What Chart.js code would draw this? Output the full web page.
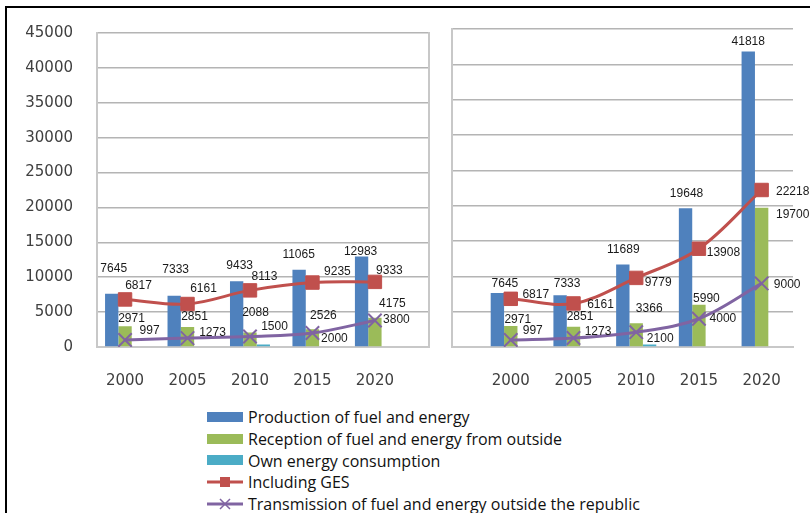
<!DOCTYPE html>
<html>
<head>
<meta charset="utf-8">
<script src="https://cdn.jsdelivr.net/npm/chart.js@4.4.1/dist/chart.umd.min.js"></script>
<style>
  html, body { margin: 0; padding: 0; background: #fff; }
  body { width: 810px; height: 513px; position: relative; overflow: hidden; }
  #frame { position: absolute; left: 5px; top: 6px; width: 805px; height: 507px;
           border-top: 2px solid #000; border-left: 2px solid #000; box-sizing: border-box; }
  .panel { position: absolute; top: 0; height: 395px; }
  #leftPanel { left: 0; width: 440px; }
  #rightPanel { left: 440px; width: 370px; }
  #legend { position: absolute; left: 207px; top: 406px; font-family: "Open Sans", sans-serif;
            font-size: 16px; color: #111; }
  .row { height: 21.8px; display: flex; align-items: center; white-space: nowrap; }
  .key { width: 36px; height: 12px; margin-right: 5px; flex: none; }
</style>
</head>
<body>
<div id="frame"></div>
<div class="panel" id="leftPanel"><canvas id="leftChart"></canvas></div>
<div class="panel" id="rightPanel"><canvas id="rightChart"></canvas></div>
<div id="legend"></div>

<script>
// Years shown on both panels
const years = ['2000', '2005', '2010', '2015', '2020'];

const seriesNames = [
  'Production of fuel and energy',
  'Reception of fuel and energy from outside',
  'Own energy consumption',
  'Including GES',
  'Transmission of fuel and energy outside the republic'
];

// Left panel
const leftProduction   = [7645, 7333, 9433, 11065, 12983];
const leftReception    = [2971, 2851, 2088, 2526, 4175];
const leftOwnUse       = [120, 110, 350, 120, 100];
const leftGES          = [6817, 6161, 8113, 9235, 9333];
const leftTransmission = [997, 1273, 1500, 2000, 3800];

// Right panel
const rightProduction   = [7645, 7333, 11689, 19648, 41818];
const rightReception    = [2971, 2851, 3366, 5990, 19700];
const rightOwnUse       = [120, 110, 350, 120, 100];
const rightGES          = [6817, 6161, 9779, 13908, 22218];
const rightTransmission = [997, 1273, 2100, 4000, 9000];

// Y axis
const yMin = 0, yMax = 45000, yStep = 5000;

const colors = {
  production: '#4F81BD',
  reception: '#9BBB59',
  own: '#4BACC6',
  ges: '#C0504D',
  trans: '#8064A2'
};

const toPoints = arr => arr.map((v, i) => ({ x: i, y: v }));

function makeDatasets(prod, recv, own, ges, trans) {
  return [
    { key: 'production', type: 'bar', label: seriesNames[0], data: toPoints(prod),
      backgroundColor: colors.production, order: 1, yAxisID: 'y' },
    { key: 'reception', type: 'bar', label: seriesNames[1], data: toPoints(recv),
      backgroundColor: colors.reception, order: 1, yAxisID: 'y' },
    { key: 'own', type: 'bar', label: seriesNames[2], data: toPoints(own),
      backgroundColor: colors.own, order: 1, yAxisID: 'y' },
    { key: 'ges', type: 'line', label: seriesNames[3], data: toPoints(ges),
      borderColor: colors.ges, backgroundColor: colors.ges, borderWidth: 3,
      pointStyle: 'rect', pointRadius: 9.5, pointBackgroundColor: colors.ges,
      pointBorderColor: colors.ges, pointBorderWidth: 1, tension: 0.35, order: 0, yAxisID: 'y' },
    { key: 'trans', type: 'line', label: seriesNames[4], data: toPoints(trans),
      borderColor: colors.trans, backgroundColor: colors.trans, borderWidth: 3,
      pointStyle: 'crossRot', pointRadius: 9.5, pointBorderColor: colors.trans,
      pointBorderWidth: 2, tension: 0.35, order: 0, yAxisID: 'y' }
  ];
}

// Value labels drawn next to each bar top / marker, shifted by [dx, dy]
const valueLabels = {
  id: 'valueLabels',
  afterDatasetsDraw(chart, args, opts) {
    const ctx = chart.ctx;
    ctx.save();
    ctx.font = opts.font;
    ctx.fillStyle = opts.color;
    ctx.textAlign = 'center';
    ctx.textBaseline = 'middle';
    chart.data.datasets.forEach((ds, di) => {
      const shifts = opts.shifts[ds.key];
      if (!shifts) return;
      chart.getDatasetMeta(di).data.forEach((el, i) => {
        const [dx, dy] = shifts[i];
        ctx.fillText(String(ds.data[i].y), el.x + dx, el.y + dy);
      });
    });
    ctx.restore();
  }
};

const leftShifts = {
  production: [[2, -25], [1.5, -26], [3, -15], [-0.5, -15], [-1, -5]],
  reception:  [[6.5, -8], [7, -10], [5.5, -20], [11, -14], [17.5, -14.5]],
  ges:        [[13.5, -14], [16, -15.5], [14.5, -14], [25, -11], [14.5, -11]],
  trans:      [[24.5, -9], [25, -5], [24.5, -9.5], [22, 6], [21.5, -1]]
};
const rightShifts = {
  production: [[7.5, -9], [7, -11], [0.5, -14.5], [1, -14], [0, -9.5]],
  reception:  [[7, -6], [6.5, -10], [13, -15], [7.5, -6], [31, 7]],
  ges:        [[25, -4], [27, 1.5], [22, 5], [24.5, 4], [31, 2]],
  trans:      [[22, -9], [24.5, -6], [24, 7], [24, 0], [25.5, 1.5]]
};

const tickFont = { family: '"DejaVu Sans", sans-serif', size: 15 };
const tickColor = '#404040';
const gridColor = '#b4b4b4';
const axisColor = '#c8c8c8';

function makeXScale(min, max) {
  return {
    type: 'linear', min: min, max: max, offset: false,
    afterBuildTicks: s => { s.ticks = years.map((_, i) => ({ value: i })); },
    ticks: { callback: v => years[v], font: tickFont, color: tickColor, padding: 25,
             maxRotation: 0, autoSkip: false },
    grid: { display: false, drawTicks: false },
    border: { display: true, color: axisColor, width: 2 },
    afterFit: s => { s.height = 48; }
  };
}

function makeConfig(datasets, xMin, xMax, showYLabels, yWidth, padRight, shifts, withRightEdge) {
  const scales = {
    x: makeXScale(xMin, xMax),
    y: {
      type: 'linear', position: 'left', min: yMin, max: yMax,
      ticks: { display: showYLabels, stepSize: yStep, font: tickFont, color: tickColor, padding: 24,
               callback: v => String(v) },
      grid: { color: gridColor, lineWidth: 1.5, drawTicks: false },
      border: { display: true, color: axisColor, width: 2 },
      afterFit: s => { s.width = yWidth; }
    }
  };
  if (withRightEdge) {
    scales.yEdge = {
      type: 'linear', position: 'right', min: yMin, max: yMax,
      ticks: { display: false }, grid: { display: false, drawTicks: false },
      border: { display: true, color: axisColor, width: 2 },
      afterFit: s => { s.width = 0; }
    };
  }
  return {
    type: 'bar',
    data: { datasets: datasets },
    options: {
      responsive: true, maintainAspectRatio: false, animation: false,
      layout: { padding: { top: 29, right: padRight, left: 0, bottom: 0 } },
      datasets: { bar: { categoryPercentage: 0.64, barPercentage: 1, grouped: true } },
      scales: scales,
      plugins: {
        legend: { display: false },
        tooltip: { enabled: false },
        valueLabels: { font: '12px "Liberation Sans", sans-serif', color: '#1a1a1a', shifts: shifts }
      }
    },
    plugins: [valueLabels]
  };
}

new Chart(document.getElementById('leftChart'), makeConfig(
  makeDatasets(leftProduction, leftReception, leftOwnUse, leftGES, leftTransmission),
  -0.449, 4.858, true, 97, 6, leftShifts, true));

new Chart(document.getElementById('rightChart'), makeConfig(
  makeDatasets(rightProduction, rightReception, rightOwnUse, rightGES, rightTransmission),
  -0.945, 4.5, false, 7, 17, rightShifts, false));

// Legend built from the series definitions
(function buildLegend() {
  const legend = document.getElementById('legend');
  const keys = [
    { color: colors.production, kind: 'bar' },
    { color: colors.reception, kind: 'bar' },
    { color: colors.own, kind: 'bar' },
    { color: colors.ges, kind: 'square' },
    { color: colors.trans, kind: 'cross' }
  ];
  keys.forEach((k, i) => {
    const row = document.createElement('div');
    row.className = 'row';
    let key;
    if (k.kind === 'bar') {
      key = '<svg class="key" viewBox="0 0 36 12"><rect x="0" y="1" width="36" height="10" fill="' + k.color + '"/></svg>';
    } else if (k.kind === 'square') {
      key = '<svg class="key" viewBox="0 0 36 12"><line x1="0" y1="6" x2="36" y2="6" stroke="' + k.color +
            '" stroke-width="3"/><rect x="13" y="1" width="10" height="10" fill="' + k.color + '"/></svg>';
    } else {
      key = '<svg class="key" viewBox="0 0 36 12"><line x1="0" y1="6" x2="36" y2="6" stroke="' + k.color +
            '" stroke-width="3"/><path d="M13 1 L23 11 M23 1 L13 11" stroke="' + k.color + '" stroke-width="1.5"/></svg>';
    }
    row.innerHTML = key + '<span>' + seriesNames[i] + '</span>';
    legend.appendChild(row);
  });
})();
</script>
</body>
</html>
